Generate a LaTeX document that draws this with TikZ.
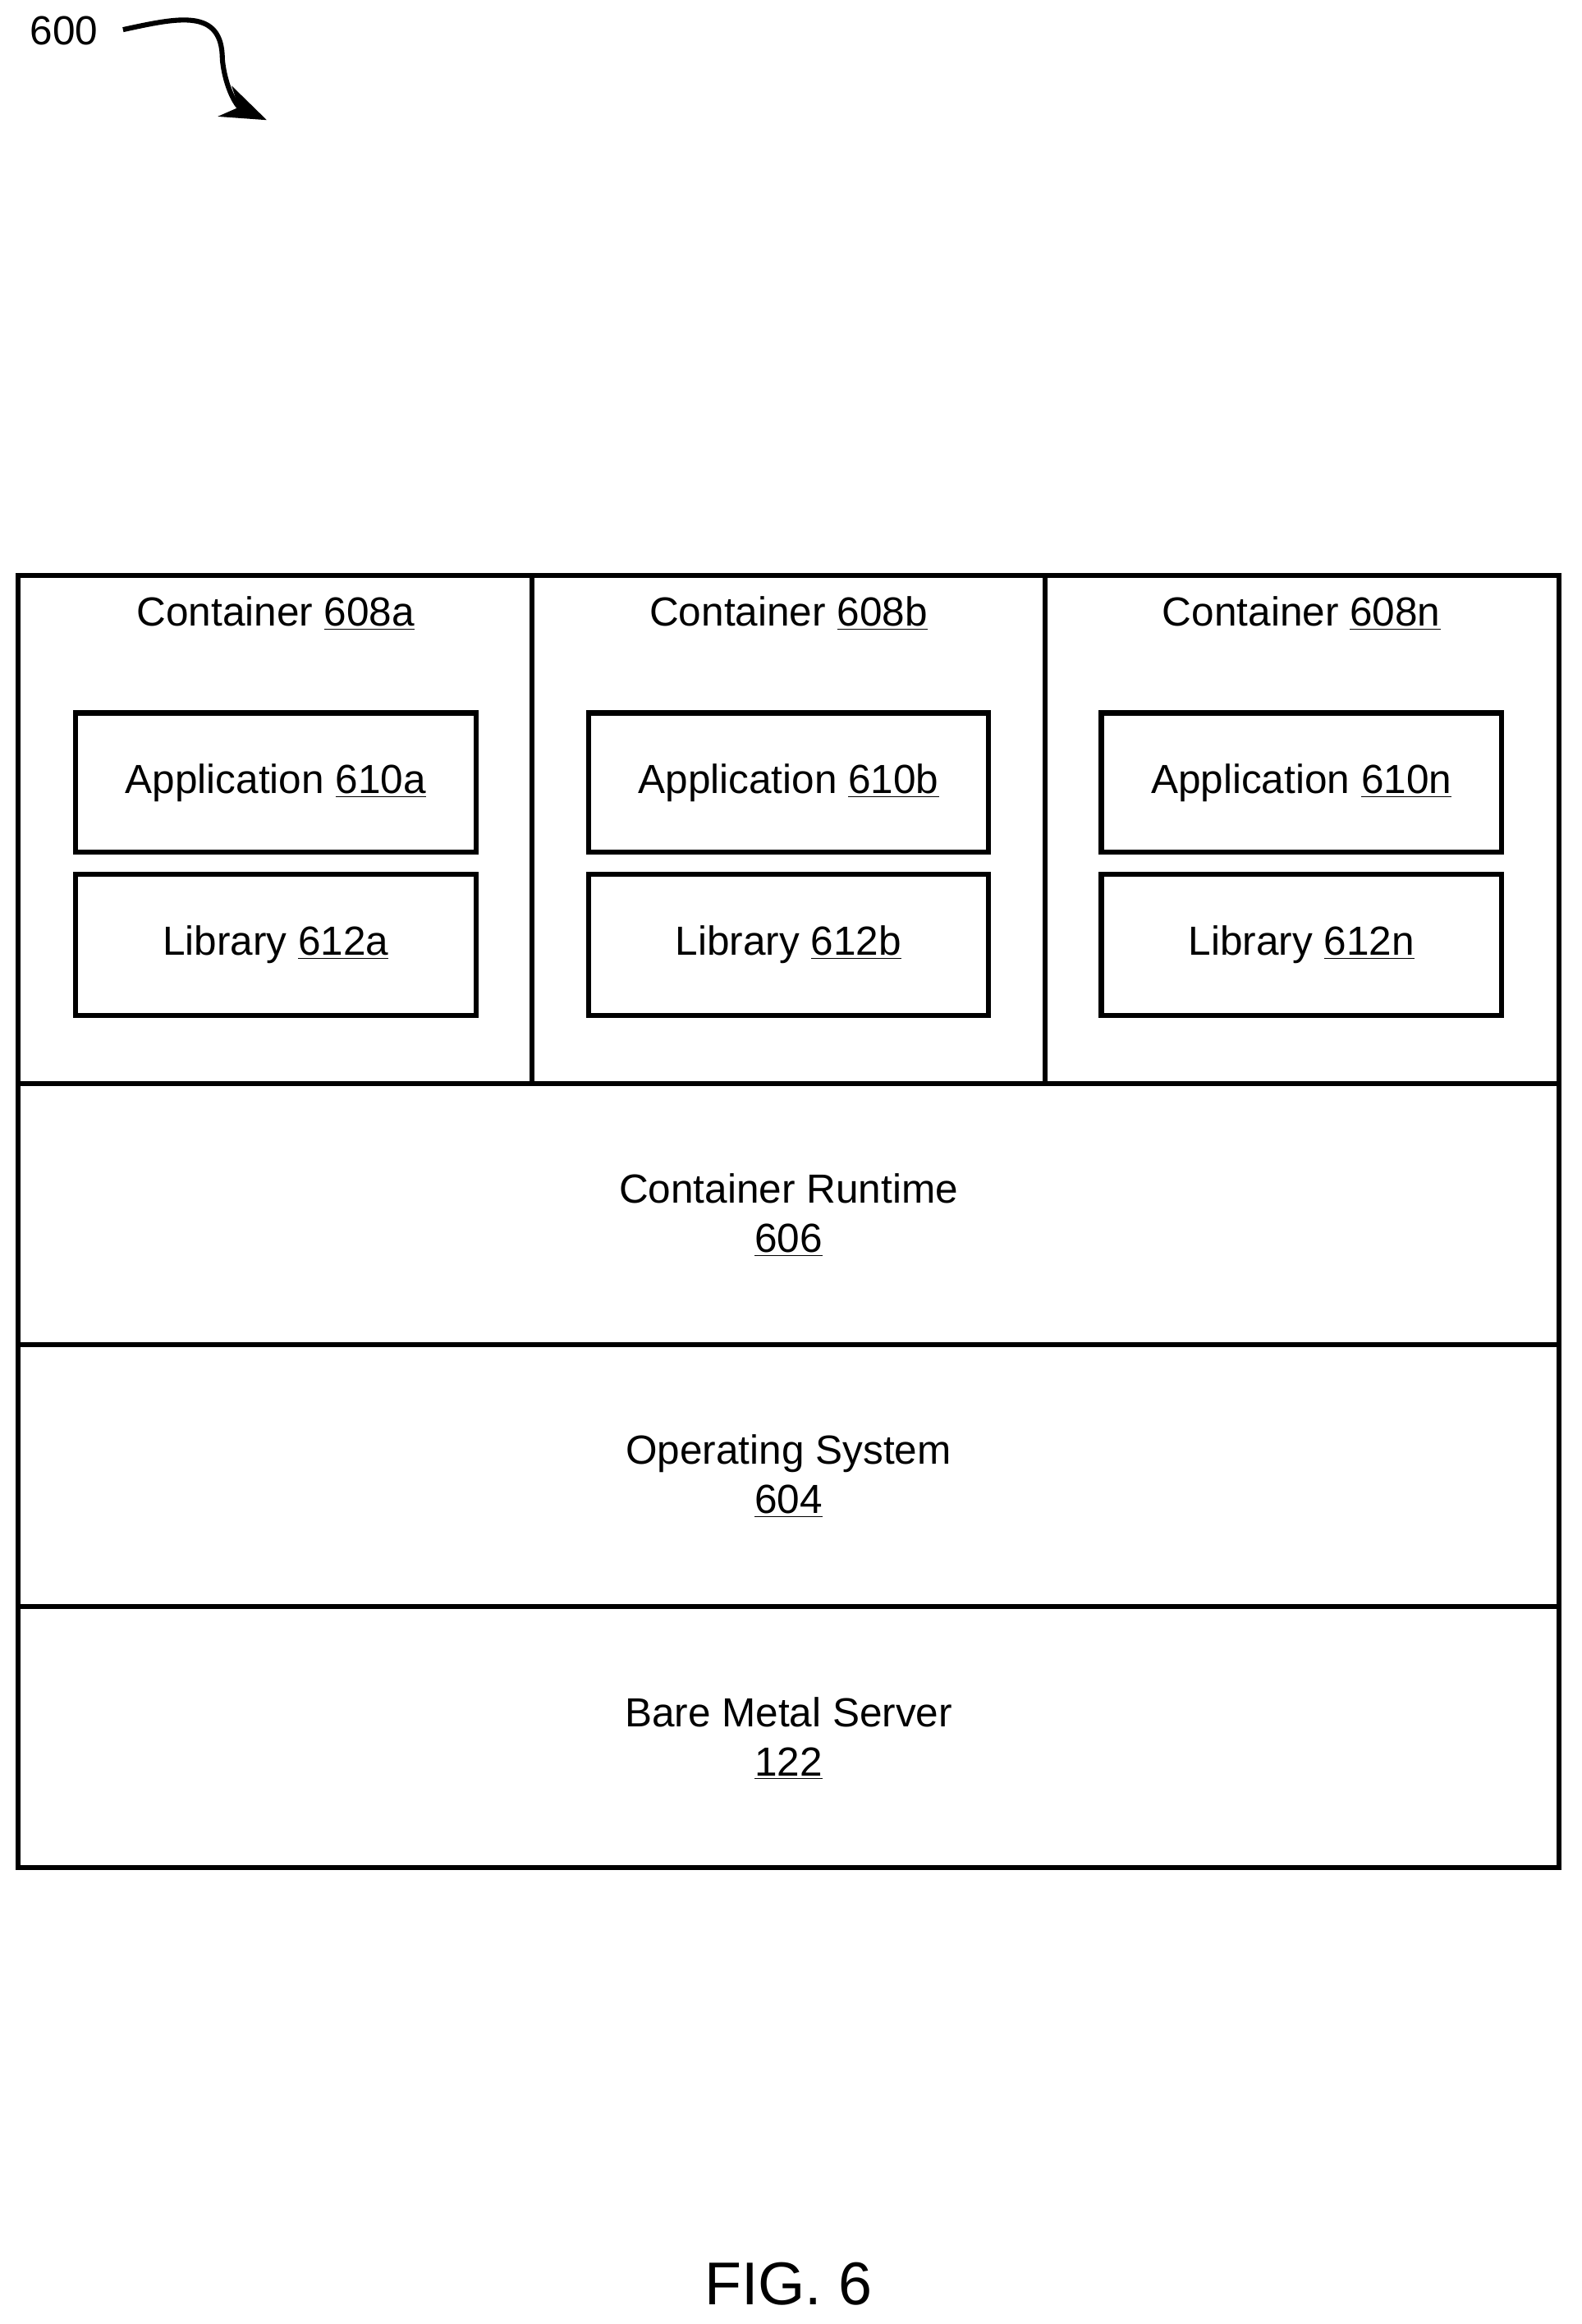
\documentclass[tikz,border=0pt]{standalone}
\usepackage{fontspec}
\setmainfont{Liberation Sans}
\usetikzlibrary{arrows.meta}
\begin{document}
\begin{tikzpicture}[x=0.025cm,y=-0.025cm,
  box/.style={draw,line width=2.4pt},
  lbl/.style={font=\fontsize{19.5}{23.5}\selectfont,align=center,inner sep=0pt}]
\useasboundingbox (0,0) rectangle (1067,1568);
\node[lbl,anchor=west] (n600) at (20,21) {600};
\coordinate (ae) at (180,81);
\draw[line width=2.4pt,-{Stealth[length=22pt,width=16pt]}] (83,20) .. controls (120,12) and (150,5) .. (150,40) .. controls (152,60) and (160,72) .. (ae);
\draw[box] (12,388) rectangle (1052,1260);
\draw[box] (359,388) -- (359,731);
\draw[box] (705,388) -- (705,731);
\draw[box] (12,731) -- (1052,731);
\draw[box] (12,907) -- (1052,907);
\draw[box] (12,1084) -- (1052,1084);
\foreach \c/\x/\l in {a/186/a, b/532/b, n/878/n}{
  \node[lbl] (c\c) at (\x,414) {Container \underline{608\l}};
  \node[box,lbl,minimum width=270*0.025cm,minimum height=94*0.025cm] (app\c) at (\x,528) {Application \underline{610\l}};
  \node[box,lbl,minimum width=270*0.025cm,minimum height=95*0.025cm] (lib\c) at (\x,637.5) {Library \underline{612\l}};
}
\node[lbl] (rt) at (532,820) {Container Runtime\\\underline{606}};
\node[lbl] (os) at (532,996) {Operating System\\\underline{604}};
\node[lbl] (bm) at (532,1173) {Bare Metal Server\\\underline{122}};
\node[lbl,font=\fontsize{29}{34}\selectfont] (fig) at (532,1541) {FIG. 6};
\end{tikzpicture}
\end{document}
